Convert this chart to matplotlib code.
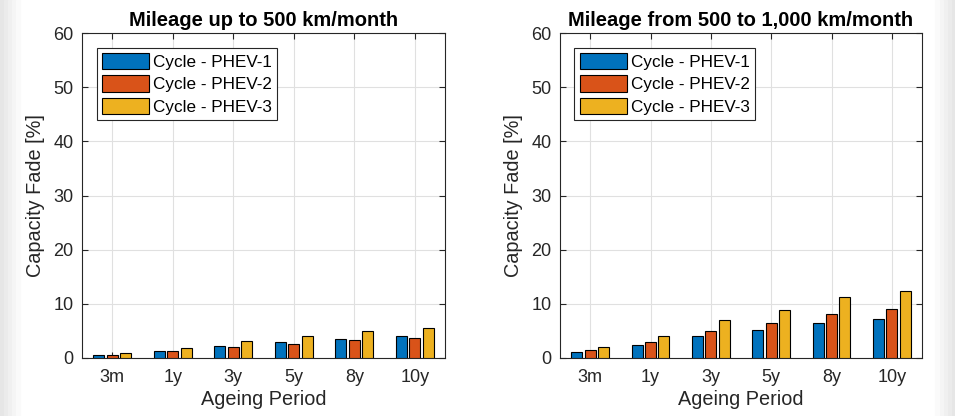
import numpy as np
import matplotlib.pyplot as plt
from matplotlib.patches import Rectangle

plt.rcParams['font.family'] = ['Liberation Sans', 'DejaVu Sans']

periods = ["3m", "1y", "3y", "5y", "8y", "10y"]
series_names = ["Cycle - PHEV-1", "Cycle - PHEV-2", "Cycle - PHEV-3"]
colors = ["#0072BD", "#D95319", "#EDB120"]

# capacity fade [%], mileage up to 500 km/month
low_phev1 = [0.6, 1.35, 2.25, 2.95, 3.6, 4.05]
low_phev2 = [0.55, 1.3, 2.1, 2.65, 3.3, 3.75]
low_phev3 = [0.9, 1.85, 3.1, 4.0, 5.0, 5.6]

# capacity fade [%], mileage 500 to 1,000 km/month
high_phev1 = [1.2, 2.4, 4.0, 5.15, 6.45, 7.2]
high_phev2 = [1.55, 3.0, 5.0, 6.45, 8.1, 9.0]
high_phev3 = [2.1, 4.1, 7.0, 8.9, 11.2, 12.45]

titles = ["Mileage up to 500 km/month", "Mileage from 500 to 1,000 km/month"]


def draw_panel(ax, series, title):
    x = np.arange(1, len(periods) + 1)
    width = 0.18
    offsets = [-0.222, 0.0, 0.222]
    for vals, off, col, name in zip(series, offsets, colors, series_names):
        ax.bar(x + off, vals, width, color=col, edgecolor="black",
               linewidth=0.8, label=name, zorder=3)
    ax.set_xlim(0.5, len(periods) + 0.5)
    ax.set_ylim(0, 60)
    ax.set_xticks(x)
    ax.set_xticklabels(periods)
    ax.set_yticks(range(0, 61, 10))
    ax.grid(True, color="#e0e0e0", linewidth=0.8, zorder=0)
    ax.tick_params(direction="in", top=True, right=True, labelsize=13,
                   colors="#262626", length=4)
    ax.tick_params(axis="x", pad=8)
    ax.tick_params(axis="y", pad=6)
    for sp in ax.spines.values():
        sp.set_color("#262626")
        sp.set_linewidth(0.8)
    ax.set_title(title, fontsize=14.5, fontweight="bold", pad=5)
    ax.set_xlabel("Ageing Period", fontsize=14.3, color="#262626", labelpad=3)
    ax.set_ylabel("Capacity Fade [%]", fontsize=14.3, color="#262626", labelpad=6)
    leg = ax.legend(loc="upper left", bbox_to_anchor=(0.04, 0.955),
                    fontsize=12.3, fancybox=False, framealpha=1,
                    handlelength=2.75, handleheight=1.1, borderpad=0.3,
                    labelspacing=0.32, handletextpad=0.25, borderaxespad=0)
    leg.get_frame().set_edgecolor("#262626")
    leg.get_frame().set_linewidth(0.8)


fig = plt.figure(figsize=(9.55, 4.16), dpi=100)

# soft shadow strips at the figure edges
for i, g in enumerate([0.90, 0.92, 0.94, 0.96, 0.98]):
    fig.patches.append(Rectangle((i * 4 / 955, 0), 4 / 955, 1, transform=fig.transFigure,
                                 color=str(g), zorder=0))
    fig.patches.append(Rectangle(((951 - i * 4) / 955, 0), 4 / 955, 1,
                                 transform=fig.transFigure, color=str(g), zorder=0))

ax1 = fig.add_axes([82 / 955, 1 - 358 / 416, 363 / 955, 325 / 416])
ax2 = fig.add_axes([560 / 955, 1 - 358 / 416, 362 / 955, 325 / 416])

draw_panel(ax1, [low_phev1, low_phev2, low_phev3], titles[0])
draw_panel(ax2, [high_phev1, high_phev2, high_phev3], titles[1])

fig.savefig("out.png", dpi=100)
